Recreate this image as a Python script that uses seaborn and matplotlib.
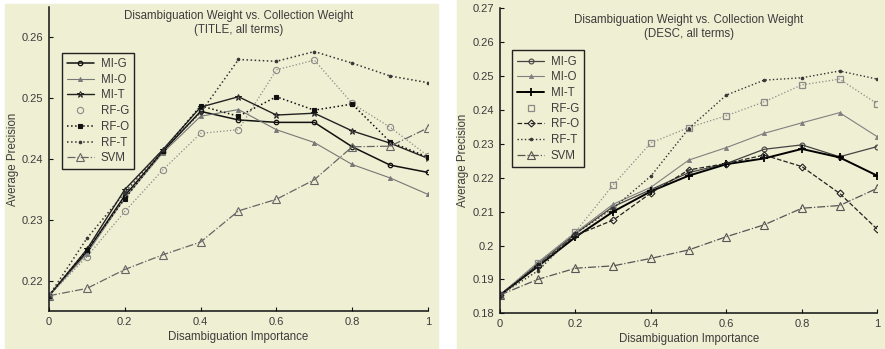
import matplotlib
matplotlib.use("Agg")
import matplotlib.pyplot as plt
from matplotlib.patches import Rectangle
import pandas as pd
import seaborn as sns

# Disambiguation importance (x) shared by both panels
importance = [0.0, 0.1, 0.2, 0.3, 0.4, 0.5, 0.6, 0.7, 0.8, 0.9, 1.0]
methods = ["MI-G", "MI-O", "MI-T", "RF-G", "RF-O", "RF-T", "SVM"]

# TITLE, all terms
title_mi_g = [0.2176, 0.2248, 0.2340, 0.2412, 0.2478, 0.2464, 0.2460, 0.2460, 0.2420, 0.2390, 0.2378]
title_mi_o = [0.2176, 0.2245, 0.2336, 0.2410, 0.2470, 0.2481, 0.2448, 0.2427, 0.2391, 0.2369, 0.2342]
title_mi_t = [0.2176, 0.2252, 0.2350, 0.2415, 0.2485, 0.2502, 0.2472, 0.2475, 0.2446, 0.2426, 0.2401]
title_rf_g = [0.2176, 0.2240, 0.2314, 0.2382, 0.2442, 0.2448, 0.2546, 0.2562, 0.2491, 0.2452, 0.2405]
title_rf_o = [0.2176, 0.2251, 0.2335, 0.2413, 0.2487, 0.2470, 0.2502, 0.2480, 0.2490, 0.2428, 0.2403]
title_rf_t = [0.2176, 0.2270, 0.2345, 0.2415, 0.2476, 0.2563, 0.2560, 0.2576, 0.2557, 0.2536, 0.2525]
title_svm = [0.2176, 0.2188, 0.2219, 0.2243, 0.2264, 0.2315, 0.2334, 0.2366, 0.2420, 0.2421, 0.2451]

# DESC, all terms
desc_mi_g = [0.1854, 0.1945, 0.2035, 0.2115, 0.2165, 0.2215, 0.2242, 0.2284, 0.2297, 0.2262, 0.2292]
desc_mi_o = [0.1854, 0.1950, 0.2038, 0.2122, 0.2172, 0.2252, 0.2289, 0.2331, 0.2362, 0.2392, 0.2321]
desc_mi_t = [0.1854, 0.1938, 0.2025, 0.2100, 0.2160, 0.2206, 0.2240, 0.2257, 0.2285, 0.2260, 0.2206]
desc_rf_g = [0.1854, 0.1948, 0.2040, 0.2179, 0.2303, 0.2348, 0.2383, 0.2424, 0.2474, 0.2491, 0.2418]
desc_rf_o = [0.1854, 0.1940, 0.2030, 0.2075, 0.2155, 0.2223, 0.2242, 0.2267, 0.2233, 0.2154, 0.2048]
desc_rf_t = [0.1854, 0.1925, 0.2035, 0.2110, 0.2205, 0.2345, 0.2444, 0.2488, 0.2495, 0.2515, 0.2491]
desc_svm = [0.1854, 0.1900, 0.1933, 0.1940, 0.1962, 0.1987, 0.2026, 0.2061, 0.2110, 0.2118, 0.2169]

x_ticks = [0, 0.2, 0.4, 0.6, 0.8, 1]
x_tick_labels = ["0", "0.2", "0.4", "0.6", "0.8", "1"]
left_y_ticks = [0.22, 0.23, 0.24, 0.25, 0.26]
left_y_tick_labels = ["0.22", "0.23", "0.24", "0.25", "0.26"]
right_y_ticks = [0.18, 0.19, 0.20, 0.21, 0.22, 0.23, 0.24, 0.25, 0.26, 0.27]
right_y_tick_labels = ["0.18", "0.19", "0.2", "0.21", "0.22", "0.23", "0.24", "0.25", "0.26", "0.27"]

left_title = "Disambiguation Weight vs. Collection Weight\n(TITLE, all terms)"
right_title = "Disambiguation Weight vs. Collection Weight\n(DESC, all terms)"
x_label = "Disambiguation Importance"
y_label = "Average Precision"

sns.set_style("ticks")
plt.rcParams["font.family"] = ["Liberation Sans", "DejaVu Sans"]

CREAM = "#efefd3"
TXT = "#3c3c3c"


def frame(values):
    return pd.DataFrame({"importance": importance, "precision": values})


left_series = [title_mi_g, title_mi_o, title_mi_t, title_rf_g, title_rf_o, title_rf_t, title_svm]
right_series = [desc_mi_g, desc_mi_o, desc_mi_t, desc_rf_g, desc_rf_o, desc_rf_t, desc_svm]

left_styles = [
    dict(color="#111111", ls="-", lw=1.1, marker="o", ms=3.2, mfc="none", mew=0.9),
    dict(color="#777777", ls="-", lw=0.8, marker="^", ms=3.0, mfc="#777777", mew=0.6),
    dict(color="#222222", ls="-", lw=1.0, marker="*", ms=5.0, mfc="none", mew=0.7),
    dict(color="#8a8a8a", ls=":", lw=0.9, marker="o", ms=4.5, mfc="none", mew=0.8),
    dict(color="#111111", ls=":", lw=1.1, marker="s", ms=3.5, mfc="#111111", mew=0.8),
    dict(color="#333333", ls=":", lw=1.1, marker=".", ms=4.0, mfc="#333333", mew=0.6),
    dict(color="#666666", ls="-.", lw=0.9, marker="^", ms=5.5, mfc="none", mew=0.8),
]
right_styles = [
    dict(color="#444444", ls="-", lw=0.9, marker="o", ms=3.5, mfc="none", mew=0.8),
    dict(color="#808080", ls="-", lw=0.8, marker="^", ms=3.0, mfc="#808080", mew=0.6),
    dict(color="#000000", ls="-", lw=1.4, marker="+", ms=6.0, mfc="none", mew=1.3),
    dict(color="#8a8a8a", ls=":", lw=0.9, marker="s", ms=5.0, mfc="none", mew=0.9),
    dict(color="#222222", ls="--", lw=0.9, marker="D", ms=3.5, mfc="none", mew=0.8),
    dict(color="#333333", ls=":", lw=1.0, marker=".", ms=4.0, mfc="#333333", mew=0.6),
    dict(color="#555555", ls="-.", lw=0.9, marker="^", ms=5.5, mfc="none", mew=0.8),
]

fig = plt.figure(figsize=(8.85, 3.49), dpi=100)
fig.patch.set_facecolor("white")

# cream panel backgrounds
fig.patches.append(Rectangle((5 / 885, 1 / 349), 433 / 885, 344 / 349,
                             transform=fig.transFigure, color=CREAM, zorder=-5))
fig.patches.append(Rectangle((457 / 885, 1 / 349), 428 / 885, 348 / 349,
                             transform=fig.transFigure, color=CREAM, zorder=-5))

ax_l = fig.add_axes([49 / 885, 1 - 311 / 349, 379 / 885, 304 / 349])
ax_r = fig.add_axes([500 / 885, 1 - 313.3 / 349, 377.3 / 885, 305 / 349])


def draw_panel(ax, series, styles, ylim, yticks, yticklabels, title, legend_anchor, title_y, ylab_x):
    ax.set_facecolor("none")
    for name, vals, st in zip(methods, series, styles):
        sns.lineplot(data=frame(vals), x="importance", y="precision", ax=ax,
                     label=name, markeredgecolor=st["color"], **st)
    ax.set_xlim(0, 1)
    ax.set_ylim(*ylim)
    ax.set_xticks(x_ticks)
    ax.set_xticklabels(x_tick_labels)
    ax.set_yticks(yticks)
    ax.set_yticklabels(yticklabels)
    ax.tick_params(direction="in", length=3, width=0.8, labelsize=8, labelcolor=TXT,
                   color="#111111", pad=4)
    for side in ("top", "right"):
        ax.spines[side].set_visible(False)
    for side in ("left", "bottom"):
        ax.spines[side].set_color("#111111")
        ax.spines[side].set_linewidth(1.1)
    ax.set_xlabel(x_label, fontsize=8.3, color=TXT, va="center")
    ax.xaxis.set_label_coords(0.5, -26 / 304)
    ax.set_ylabel(y_label, fontsize=8.3, color=TXT, va="center")
    ax.yaxis.set_label_coords(ylab_x, 0.5)
    ax.text(0.5, title_y, title, transform=ax.transAxes, ha="center", va="center",
            fontsize=8.3, color=TXT, linespacing=1.2)
    leg = ax.legend(loc="upper left", bbox_to_anchor=legend_anchor, fontsize=8.3,
                    frameon=True, fancybox=False, handlelength=2.3, handletextpad=0.6,
                    labelspacing=0.32, borderpad=0.45, borderaxespad=0)
    leg.get_frame().set_edgecolor("#222222")
    leg.get_frame().set_linewidth(1.0)
    leg.get_frame().set_facecolor(CREAM)
    leg.get_frame().set_alpha(1)
    # the RF-G entry shows its marker only
    leg.get_lines()[3].set_linestyle("none")
    for t in leg.get_texts():
        t.set_color(TXT)


draw_panel(ax_l, left_series, left_styles, (0.2151, 0.2649), left_y_ticks, left_y_tick_labels,
           left_title, (0.034, 0.849), 0.947, -0.095)
draw_panel(ax_r, right_series, right_styles, (0.18, 0.27), right_y_ticks, right_y_tick_labels,
           right_title, (0.032, 0.862), 0.94, -0.098)

fig.savefig("out.png", dpi=100)
